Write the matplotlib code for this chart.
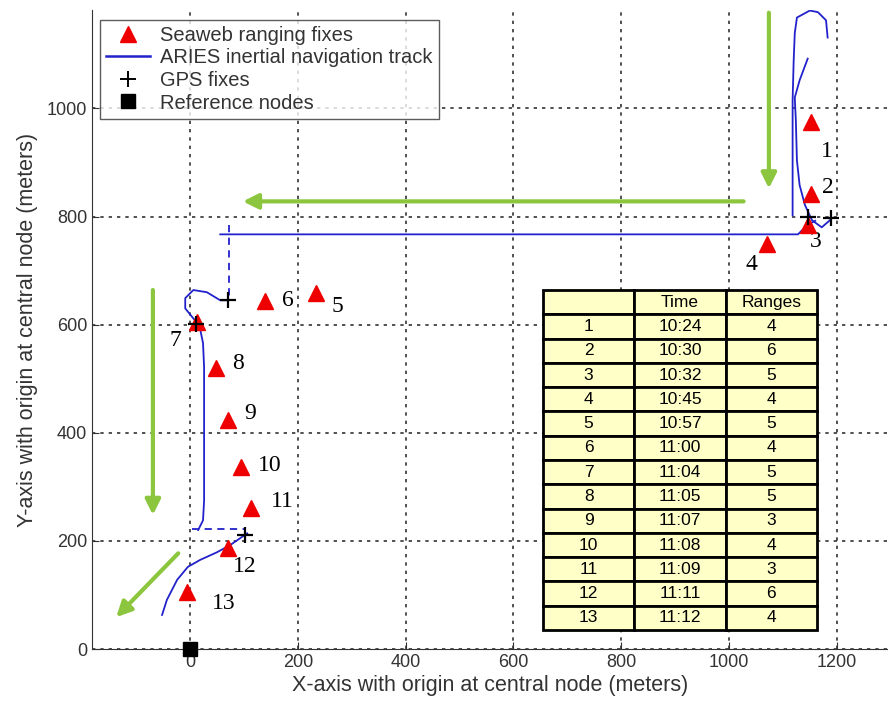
import numpy as np
import matplotlib.pyplot as plt

plt.rcParams['font.family'] = ['Liberation Sans', 'DejaVu Sans']

# Seaweb ranging fixes (meters)
fix_x = [1152, 1153, 1146, 1070, 234, 139, 13, 48, 70, 95, 113, 70, -6]
fix_y = [974, 841, 784, 750, 658, 643, 604, 519, 423, 336, 261, 187, 105]
fix_ids = [str(i) for i in range(1, 14)]
label_x = [1181, 1183, 1161, 1042, 274, 182, -28, 89, 111, 148, 172, 102, 63]
label_y = [920, 854, 754, 712, 634, 645, 571, 529, 436, 340, 272, 153, 85]

# GPS fixes
gps_x = [1146, 1190, 70, 11, 102]
gps_y = [800, 797, 645, 601, 211]

# reference node
ref_x = [0]
ref_y = [0]

# ARIES inertial navigation track pieces
trk_a_x = [1183, 1180, 1165, 1150, 1126, 1122, 1120, 1118, 1118, 1118]
trk_a_y = [1131, 1163, 1178, 1181, 1168, 1139, 1089, 1015, 900, 802]
trk_b_x = [1146, 1131, 1122, 1124, 1126, 1131, 1141, 1154, 1172, 1187]
trk_b_y = [1092, 1052, 1020, 978, 904, 858, 821, 793, 780, 793]
trk_c_x = [56, 1128, 1146, 1160]
trk_c_y = [767, 767, 785, 792]
trk_d_x = [70, 56, 31, 6, -9, -9, 4, 13, 19, 24, 26, 26, 26, 24, 15]
trk_d_y = [645, 645, 660, 664, 649, 630, 614, 603, 590, 566, 521, 399, 275, 238, 220]
trk_e_x = [-52, -43, -24, -4, 19, 50, 74, 93, 106]
trk_e_y = [63, 91, 128, 152, 165, 179, 192, 205, 214]
dash_v_x = [72, 72]
dash_v_y = [784, 652]
dash_h_x = [4, 102]
dash_h_y = [222, 222]

# direction arrows (start, end)
arrows = [((1074, 1177), (1074, 852)),
          ((1027, 828), (98, 828)),
          ((-69, 664), (-69, 248)),
          ((-22, 177), (-137, 59))]

table_cols = ['', 'Time', 'Ranges']
table_time = ['10:24', '10:30', '10:32', '10:45', '10:57', '11:00', '11:04',
              '11:05', '11:07', '11:08', '11:09', '11:11', '11:12']
table_ranges = ['4', '6', '5', '4', '5', '4', '5', '5', '3', '4', '3', '6', '4']

fig = plt.figure(figsize=(8.88, 7.06), dpi=100)
ax = fig.add_axes([92/888, 57/706, 796/888, 639/706])

trk_col = '#2222cc'
ax.plot(trk_a_x, trk_a_y, color=trk_col, lw=1.3)
ax.plot(trk_b_x, trk_b_y, color=trk_col, lw=1.3)
ax.plot(trk_c_x, trk_c_y, color=trk_col, lw=1.3)
ax.plot(trk_d_x, trk_d_y, color=trk_col, lw=1.3)
ax.plot(trk_e_x, trk_e_y, color=trk_col, lw=1.3)
ax.plot(dash_v_x, dash_v_y, color=trk_col, lw=1.3, ls=(0, (4, 3)))
ax.plot(dash_h_x, dash_h_y, color=trk_col, lw=1.3, ls=(0, (4, 3)))

ax.plot(fix_x, fix_y, '^', color='#ee0000', ms=12, ls='none', zorder=4)
ax.plot(gps_x, gps_y, '+', color='black', ms=12, mew=1.6, ls='none', zorder=5)
ax.plot(ref_x, ref_y, 's', color='black', ms=10, ls='none', clip_on=False, zorder=6)

for lx, ly, t in zip(label_x, label_y, fix_ids):
    ax.text(lx, ly, t, fontsize=17, family='Liberation Serif', ha='center', va='center')

for (x0, y0), (x1, y1) in arrows:
    ax.annotate('', xy=(x1, y1), xytext=(x0, y0),
                arrowprops=dict(arrowstyle='-|>,head_length=0.9,head_width=0.45',
                                color='#8cc63e', lw=3, shrinkA=0, shrinkB=0))

# legend handles
h1, = ax.plot([], [], '^', color='#ee0000', ms=12)
h2, = ax.plot([], [], '-', color=trk_col, lw=1.8)
h3, = ax.plot([], [], '+', color='black', ms=12, mew=1.4)
h4, = ax.plot([], [], 's', color='black', ms=10)
leg = ax.legend([h1, h2, h3, h4],
                ['Seaweb ranging fixes', 'ARIES inertial navigation track',
                 'GPS fixes', 'Reference nodes'],
                loc='upper left', bbox_to_anchor=(0.010, 0.985), fontsize=14.5,
                frameon=True, fancybox=False, edgecolor='#333333',
                borderpad=0.3, labelspacing=0.18, handlelength=2.2,
                handletextpad=0.5, borderaxespad=0)
leg.get_frame().set_linewidth(1.0)
for t in leg.get_texts():
    t.set_color('#333333')

# table
cell_text = [[str(i + 1), table_time[i], table_ranges[i]] for i in range(13)]
tbl = ax.table(cellText=cell_text, colLabels=table_cols, cellLoc='center',
               bbox=[(543 - 92) / 796, (649 - 630) / 639, 274 / 796, 340 / 639])
tbl.auto_set_font_size(False)
tbl.set_fontsize(12.5)
for key, cell in tbl.get_celld().items():
    cell.set_facecolor('#ffffc8')
    cell.set_edgecolor('black')
    cell.set_linewidth(2)
tbl.set_zorder(7)

ax.set_xlim(-182, 1295)
ax.set_ylim(0, 1182)
ax.set_xticks([0, 200, 400, 600, 800, 1000, 1200])
ax.set_yticks([0, 200, 400, 600, 800, 1000])
ax.grid(True, color='#333333', ls=(0, (2, 3)), lw=1.2)
ax.set_axisbelow(True)
ax.spines['top'].set_visible(False)
ax.spines['right'].set_visible(False)
ax.spines['left'].set_color('#333333')
ax.spines['bottom'].set_color('#333333')
ax.tick_params(direction='in', length=5, labelsize=13, colors='#333333')

ax.set_xlabel('X-axis with origin at central node (meters)', fontsize=15.5,
              color='#333333', labelpad=3)
ax.set_ylabel('Y-axis with origin at central node (meters)', fontsize=15.5,
              color='#333333', labelpad=6)

fig.savefig('out.png', dpi=100)
